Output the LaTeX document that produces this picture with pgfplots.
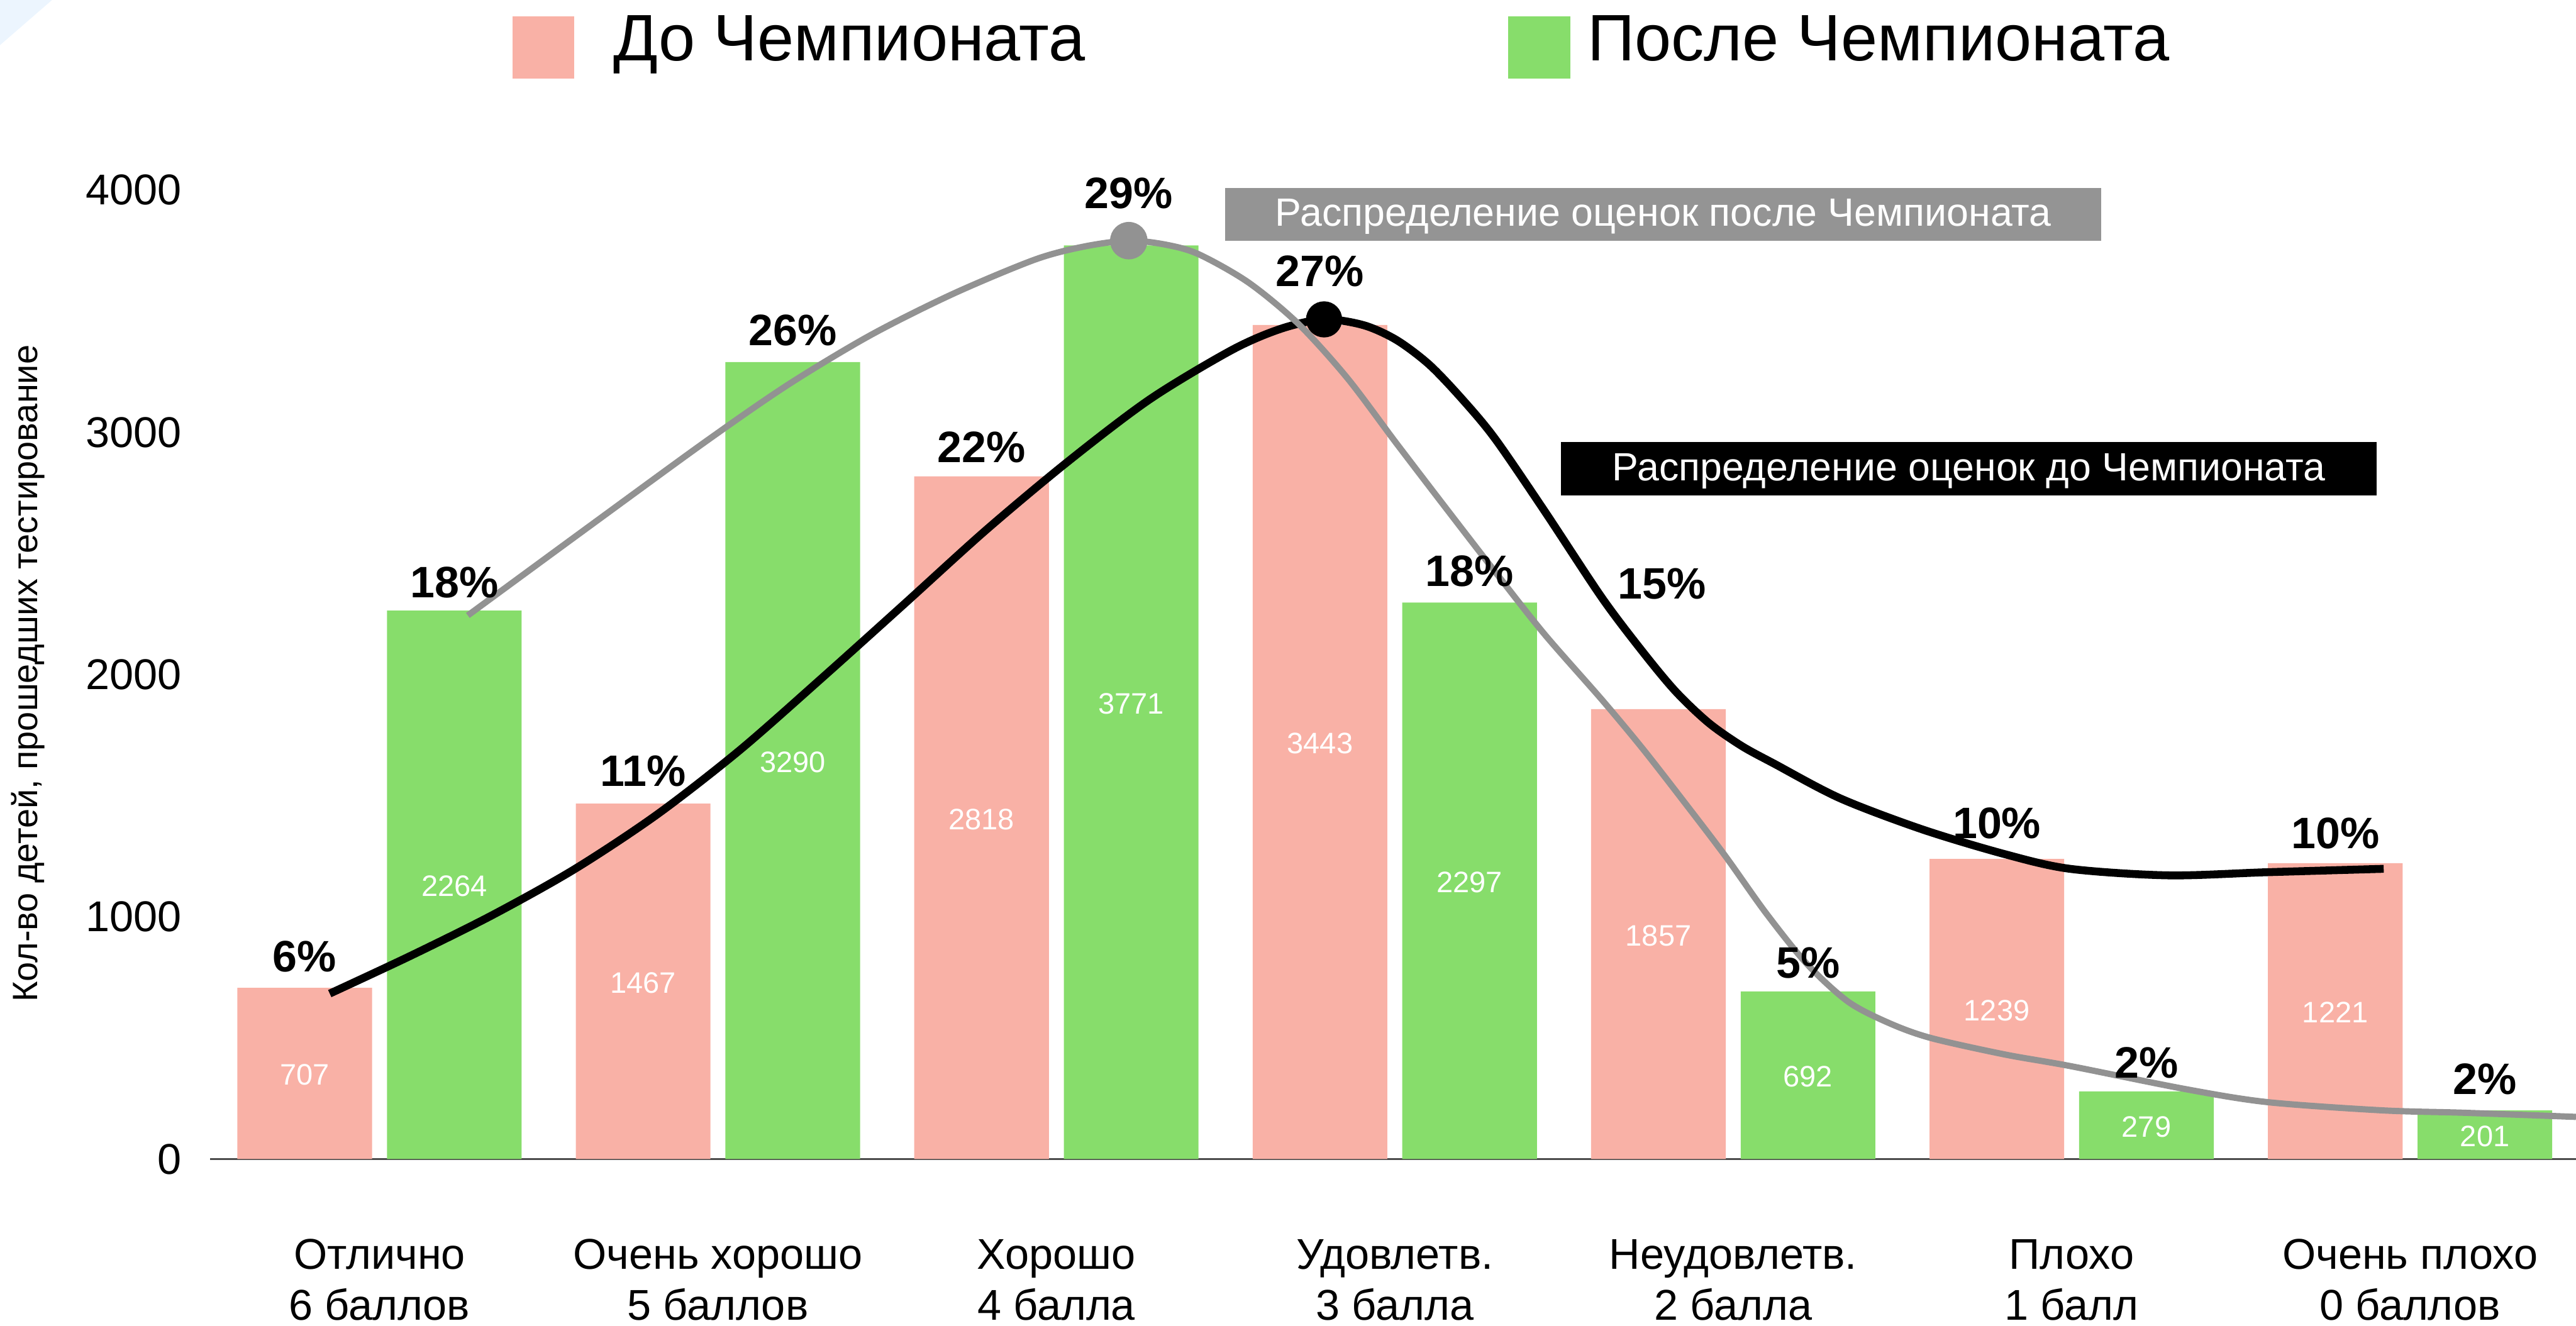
\documentclass[border=0pt]{standalone}
\usepackage{pgfplots}
\pgfplotsset{compat=1.18}
\usepackage{fontspec}
\setmainfont{Liberation Sans}
\definecolor{pinkbar}{RGB}{249,177,166}
\definecolor{greenbar}{RGB}{135,221,107}
\definecolor{curvegray}{RGB}{146,146,146}
\definecolor{boxgray}{RGB}{148,148,148}
\definecolor{cornerblue}{RGB}{236,245,254}
\begin{document}
\begin{tikzpicture}
\useasboundingbox (-64pt,-50.65pt) rectangle (720pt,352.85pt);
\fill[cornerblue] (-64pt,352.85pt) -- (-48.15pt,352.85pt) -- (-64pt,339.1pt) -- cycle;
\begin{axis}[
  at={(0pt,0pt)}, anchor=south west,
  scale only axis, width=721pt, height=295pt,
  xmin=-0.5, xmax=6.5, ymin=0, ymax=4000,
  axis lines*=left,
  x axis line style={draw=black!70, line width=0.6pt},
  y axis line style={draw=none},
  xtick={0,1,2,3,4,5,6},
  xticklabels={{Отлично\\6 баллов},{Очень хорошо\\5 баллов},{Хорошо\\4 балла},{Удовлетв.\\3 балла},{Неудовлетв.\\2 балла},{Плохо\\1 балл},{Очень плохо\\0 баллов}},
  xticklabel style={align=center, font=\fontsize{13.1}{15.5}\selectfont, anchor=north, yshift=-20.9pt},
  ytick={0,1000,2000,3000,4000},
  yticklabel style={font=\fontsize{13.1}{15.25}\selectfont, anchor=east, xshift=-5.25pt},
  major tick length=0pt,
  /pgf/number format/assume math mode=true,
  /pgf/number format/1000 sep={},
  scaled y ticks=false,
  clip=false,
  ylabel={Кол-во детей, прошедших тестирование},
  every axis y label/.style={at={(axis description cs:-0.078,0.501)}, rotate=90, anchor=center, font=\fontsize{10.7}{12}\selectfont, text height=0.716em, text depth=0pt, inner sep=0pt},
]
% bars: before (pink) and after (green)
\addplot[ybar, bar width=0.398, bar shift=0pt, fill=pinkbar, draw=none] coordinates {
 (-0.221,707) (0.779,1467) (1.779,2818) (2.779,3443) (3.779,1857) (4.779,1239) (5.779,1221)};
\addplot[ybar, bar width=0.398, bar shift=0pt, fill=greenbar, draw=none] coordinates {
 (0.221,2264) (1.221,3290) (2.221,3771) (3.221,2297) (4.221,692) (5.221,279) (6.221,201)};
% curve before (black)
\addplot[smooth, black, line width=2.4pt] coordinates {
 (-0.147,683) (0.092,839) (0.335,1008) (0.578,1198) (0.820,1422) (1.063,1686) (1.306,1984)
 (1.549,2289) (1.791,2595) (2.034,2879) (2.277,3137) (2.519,3340) (2.665,3428) (2.791,3466)
 (2.908,3442) (3.005,3381) (3.102,3279) (3.199,3137) (3.296,2974) (3.442,2676) (3.612,2317) (3.733,2093)
 (3.830,1930) (3.927,1801) (4.024,1706) (4.121,1632) (4.316,1489) (4.558,1361) (4.801,1259)
 (4.995,1198) (5.286,1171) (5.578,1184) (5.922,1198)};
% curve after (gray)
\addplot[smooth, curvegray, line width=1.9pt] coordinates {
 (0.261,2244) (0.626,2618) (0.966,2964) (1.209,3198) (1.451,3401) (1.694,3571) (1.937,3713)
 (2.083,3767) (2.214,3791) (2.325,3774) (2.422,3734) (2.568,3618) (2.714,3449) (2.859,3225)
 (3.005,2954) (3.150,2689) (3.296,2425) (3.442,2167) (3.612,1896) (3.733,1693) (3.854,1476)
 (3.976,1252) (4.097,1015) (4.218,805) (4.340,649) (4.461,561) (4.583,500) (4.801,432)
 (4.995,384) (5.335,289) (5.578,235) (5.917,201) (6.160,191) (6.490,174)};
\addplot[only marks, mark=*, mark size=5.5pt, color=curvegray, fill=curvegray] coordinates {(2.214,3791)};
\addplot[only marks, mark=*, mark size=5.3pt, color=black, fill=black] coordinates {(2.791,3466)};
% values inside bars
\begin{scope}[every node/.style={text=white, font=\fontsize{9}{10}\selectfont, text height=0.716em, text depth=0pt, inner sep=0pt}]
\node at (axis cs:-0.221,353.5) {707};
\node at (axis cs:0.779,733.5) {1467};
\node at (axis cs:1.779,1409) {2818};
\node at (axis cs:2.779,1721.5) {3443};
\node at (axis cs:3.779,928.5) {1857};
\node at (axis cs:4.779,619.5) {1239};
\node at (axis cs:5.779,610.5) {1221};
\node at (axis cs:0.221,1132) {2264};
\node at (axis cs:1.221,1645) {3290};
\node at (axis cs:2.221,1885.5) {3771};
\node at (axis cs:3.221,1148.5) {2297};
\node at (axis cs:4.221,346) {692};
\node at (axis cs:5.221,139.5) {279};
\node at (axis cs:6.221,100.5) {201};
\end{scope}
% percentage labels
\begin{scope}[every node/.style={font=\fontsize{13.4}{15}\selectfont\bfseries, text height=0.716em, text depth=0pt, inner sep=0pt}]
\node at (axis cs:-0.221,821) {6\%};
\node at (axis cs:0.779,1587) {11\%};
\node at (axis cs:1.779,2924) {22\%};
\node at (axis cs:2.779,3651) {27\%};
\node at (axis cs:3.789,2362) {15\%};
\node at (axis cs:4.779,1372) {10\%};
\node at (axis cs:5.779,1331) {10\%};
\node at (axis cs:0.221,2367) {18\%};
\node at (axis cs:1.221,3408) {26\%};
\node at (axis cs:2.213,3972) {29\%};
\node at (axis cs:3.221,2412) {18\%};
\node at (axis cs:4.221,795) {5\%};
\node at (axis cs:5.221,382) {2\%};
\node at (axis cs:6.221,316) {2\%};
\end{scope}
% curve captions
\node[fill=boxgray, text=white, minimum width=266.6pt, minimum height=16.2pt, inner sep=0pt, text height=0.716em, text depth=0pt, font=\fontsize{12}{14}\selectfont] at (axis cs:3.7932,3899) {Распределение оценок после Чемпионата};
\node[fill=black, text=white, minimum width=248.35pt, minimum height=16.2pt, inner sep=0pt, text height=0.716em, text depth=0pt, font=\fontsize{12}{14}\selectfont] at (axis cs:4.696,2849.5) {Распределение оценок до Чемпионата};
\end{axis}
% legend
\fill[pinkbar] (92pt,328.85pt) rectangle (110.8pt,347.9pt);
\node[anchor=west, inner sep=0pt, text height=0.716em, text depth=0pt, font=\fontsize{20}{22}\selectfont] at (122.5pt,338pt) {До Чемпионата};
\fill[greenbar] (395pt,328.85pt) rectangle (414pt,347.9pt);
\node[anchor=west, inner sep=0pt, text height=0.716em, text depth=0pt, font=\fontsize{20}{22}\selectfont] at (419pt,338pt) {После Чемпионата};
\end{tikzpicture}
\end{document}
